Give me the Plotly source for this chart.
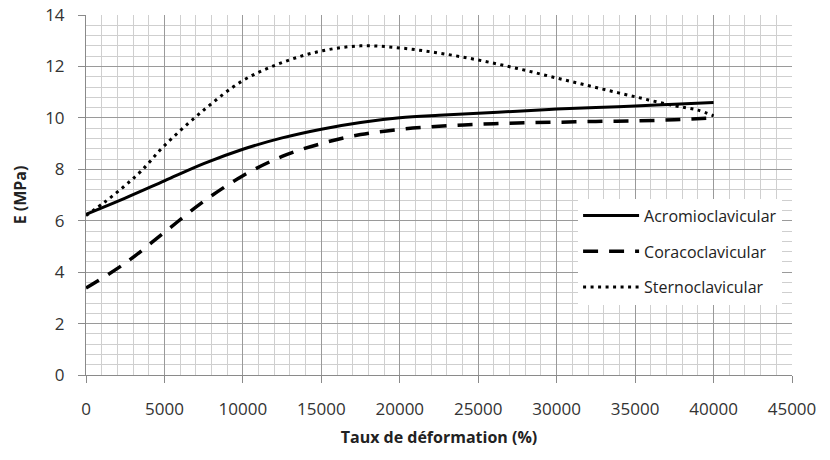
import plotly.graph_objects as go

strain = [0, 2500, 5000, 7500, 10000, 12500, 15000, 17500, 20000, 22500,
          25000, 27500, 30000, 32500, 35000, 37500, 40000]
acromio = [6.25, 6.88, 7.55, 8.22, 8.78, 9.22, 9.56, 9.82, 10.0, 10.1,
           10.18, 10.26, 10.34, 10.4, 10.46, 10.53, 10.6]
coraco = [3.38, 4.35, 5.55, 6.75, 7.75, 8.5, 9.0, 9.35, 9.55, 9.67,
          9.75, 9.8, 9.83, 9.86, 9.88, 9.93, 10.0]
strain_s = [0, 1200, 2400, 3500, 5000, 7500, 10000, 12500, 15000, 17500, 20000,
            22500, 25000, 27500, 30000, 32500, 35000, 37500, 39000, 40000]
sterno = [6.2, 6.73, 7.32, 7.92, 8.92, 10.3, 11.45, 12.15, 12.6, 12.8, 12.72,
          12.52, 12.25, 11.92, 11.55, 11.18, 10.82, 10.47, 10.3, 10.08]

x_ticks = [0, 5000, 10000, 15000, 20000, 25000, 30000, 35000, 40000, 45000]
y_ticks = [0, 2, 4, 6, 8, 10, 12, 14]

FONT = "Open Sans"
fig = go.Figure()
fig.add_trace(go.Scatter(x=strain, y=acromio, mode="lines", name="Acromioclavicular",
                         line=dict(color="black", width=3, shape="spline"),
                         legendgroup="a"))
fig.add_trace(go.Scatter(x=strain, y=coraco, mode="lines", name="Coracoclavicular",
                         line=dict(color="black", width=3.5, dash="15px,11px", shape="spline"),
                         legendgroup="b"))
fig.add_trace(go.Scatter(x=strain_s, y=sterno, mode="lines", name="Sternoclavicular",
                         line=dict(color="black", width=3, dash="3px,4.5px", shape="spline"),
                         legendgroup="c"))

axis_common = dict(
    showgrid=True, gridcolor="#9a9a9a", gridwidth=1, automargin=False,
    zeroline=False, showline=True, linecolor="#8a8a8a", linewidth=1,
    ticks="outside", ticklen=7, tickcolor="#8a8a8a", ticklabeloverflow="allow",
    tickfont=dict(family=FONT, size=17, color="#333333"),
)

fig.update_layout(
    width=830, height=460,
    margin=dict(l=86, r=38, t=15, b=85),
    paper_bgcolor="white", plot_bgcolor="white",
    font=dict(family=FONT, color="#222222"),
    xaxis=dict(range=[0, 45000], tickvals=x_ticks, ticktext=[str(v) for v in x_ticks],
               minor=dict(dtick=1000, showgrid=True, gridcolor="#cfcfcf", gridwidth=1),
               ticklabelstandoff=12,
               title=dict(text="<b>Taux de déformation (%)</b>", font=dict(family=FONT, size=16),
                          standoff=12),
               **axis_common),
    yaxis=dict(range=[0, 14], tickvals=y_ticks, ticktext=[str(v) for v in y_ticks],
               minor=dict(dtick=0.4, showgrid=True, gridcolor="#cfcfcf", gridwidth=1),
               ticklabelstandoff=10,
               title=dict(text="<b>E (MPa)</b>", font=dict(family=FONT, size=16),
                          standoff=14),
               **axis_common),
    legend=dict(x=0.697, y=0.49, xanchor="left", yanchor="top",
                bgcolor="white", borderwidth=0,
                font=dict(family=FONT, size=16, color="#222222"),
                traceorder="grouped", tracegroupgap=12, itemwidth=56),
    showlegend=True,
)

fig.write_html("out.html", config={"displayModeBar": False},
               post_script="document.body.style.margin='0';document.body.style.overflow='hidden';")
